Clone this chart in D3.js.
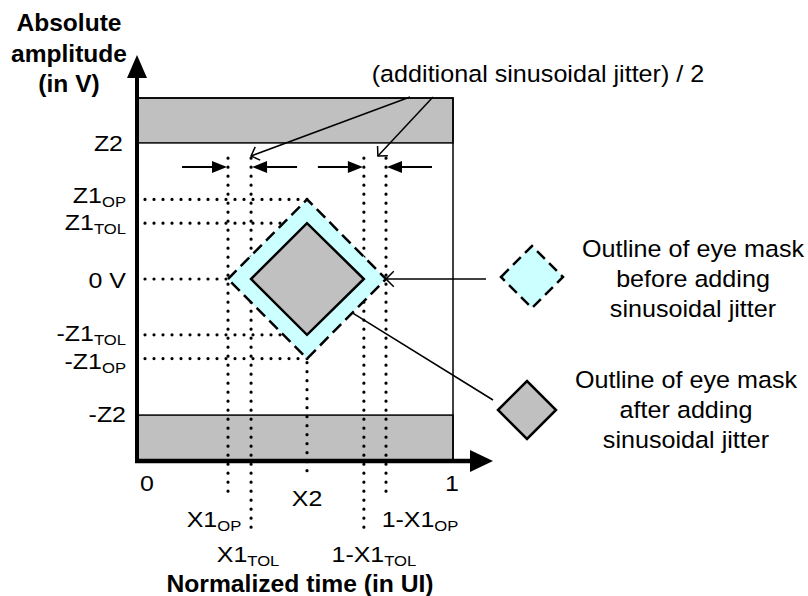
<!DOCTYPE html>
<html><head><meta charset="utf-8">
<script src="https://cdn.jsdelivr.net/npm/d3@7"></script>
<style>
body{margin:0;background:#fff}
svg{display:block}
text{font-family:"Liberation Sans",Arial,Helvetica,sans-serif;fill:#000}
</style>
</head><body>
<svg id="chart" width="808" height="596"></svg>
<script>
// ---------- data ----------
const xLabels = [["X1","OP"],["X1","TOL"],["X2",""],["1-X1","TOL"],["1-X1","OP"]];
const xValues = [0.288, 0.361, 0.538, 0.718, 0.788];
const zLabels = [["Z2",""],["Z1","OP"],["Z1","TOL"],["0 V",""],["-Z1","TOL"],["-Z1","OP"],["-Z2",""]];
const zValues = [1.0, 0.585, 0.41, 0, -0.41, -0.585, -1.0];
const xTickLabels = ["0","1"];
const xTickValues = [0, 1];
const zLimit = 1.33;          // extent of the drawn amplitude range
const jitterArrowZ = 0.823;   // amplitude where the jitter arrows sit
const calloutText = "(additional sinusoidal jitter) / 2";
const yTitle = ["Absolute","amplitude","(in V)"];
const xTitle = "Normalized time (in UI)";
const legendLabels = [
  ["Outline of eye mask","before adding","sinusoidal jitter"],
  ["Outline of eye mask","after adding","sinusoidal jitter"]
];

// ---------- layout ----------
const svg = d3.select("#chart");
const x = d3.scaleLinear().domain([0,1]).range([137,453]);
const y = d3.scaleLinear().domain([-zLimit,zLimit]).range([460,98]);
const CYAN = "#ccffff", GRAY = "#c0c0c0";
const X1OP=xValues[0], X1TOL=xValues[1], X2=xValues[2], NX1TOL=xValues[3], NX1OP=xValues[4];
const Z2=zValues[0], Z1OP=zValues[1], Z1TOL=zValues[2];

// text helper: horizontally widened text like the reference
function txt(px, py, size, anchor, sx, bold){
  const t = svg.append("text").attr("transform",`translate(${px},${py}) scale(${sx},1)`)
    .attr("font-size",size).attr("text-anchor",anchor);
  if(bold) t.attr("font-weight","bold");
  return t;
}

// bands
svg.append("rect").attr("x",x(0)).attr("y",y(zLimit)).attr("width",x(1)-x(0)).attr("height",y(Z2)-y(zLimit))
  .attr("fill",GRAY).attr("stroke","#000").attr("stroke-width",1.5);
svg.append("rect").attr("x",x(0)).attr("y",y(-Z2)).attr("width",x(1)-x(0)).attr("height",y(-zLimit)-y(-Z2))
  .attr("fill",GRAY).attr("stroke","#000").attr("stroke-width",1.5);
svg.append("rect").attr("x",x(0)).attr("y",y(zLimit)).attr("width",x(1)-x(0)).attr("height",y(-zLimit)-y(zLimit))
  .attr("fill","none").attr("stroke","#000").attr("stroke-width",1.5);

const dotted = sel => sel.attr("stroke","#000").attr("stroke-width",3.2)
  .attr("stroke-linecap","round").attr("stroke-dasharray","0,9").attr("fill","none");

// horizontal dotted guides
const hEnds = [null, X2, X2, X1OP, X2, X2, null];
zValues.forEach((v,i)=>{
  if(hEnds[i]===null) return;
  svg.append("line").attr("x1",x(0)+8).attr("x2",x(hEnds[i])).attr("y1",y(v)).attr("y2",y(v)).call(dotted);
});
// vertical dotted guides
const vTop = [jitterArrowZ+0.065, jitterArrowZ+0.065, -Z1OP-0.03, jitterArrowZ+0.065, jitterArrowZ+0.065];
const vBottom = [497, 533, 478, 533, 497];
xValues.forEach((v,i)=>{
  svg.append("line").attr("x1",x(v)).attr("x2",x(v)).attr("y1",y(vTop[i])).attr("y2",vBottom[i]).call(dotted);
});

// connector to "after" legend (starts under the cyan ring)
const t = 0.45;
const cx0 = x(NX1TOL)+(x(X2)-x(NX1TOL))*t, cy0 = y(0)+(y(-Z1TOL)-y(0))*t;
svg.append("line").attr("x1",cx0).attr("y1",cy0).attr("x2",493).attr("y2",400).attr("stroke","#000").attr("stroke-width",1.5);

// diamonds
const diamond = (l,r,top,bot,mid,cxv) => [[l,mid],[cxv,top],[r,mid],[cxv,bot]];
const line = d3.line();
svg.append("path")
  .attr("d", line(diamond(x(X1OP),x(NX1OP),y(Z1OP),y(-Z1OP),y(0),x(X2)))+"Z")
  .attr("fill",CYAN).attr("stroke","#000").attr("stroke-width",2.5).attr("stroke-dasharray","12,6");
svg.append("path")
  .attr("d", line(diamond(x(X1TOL),x(NX1TOL),y(Z1TOL),y(-Z1TOL),y(0),x(X2)))+"Z")
  .attr("fill",GRAY).attr("stroke","#000").attr("stroke-width",2.5).attr("stroke-linejoin","miter");

// arrow helpers
function filledArrow(x1,y1,x2,y2,len,hw,sw){
  const a = Math.atan2(y2-y1,x2-x1);
  const bx = x2-len*Math.cos(a), by = y2-len*Math.sin(a);
  svg.append("line").attr("x1",x1).attr("y1",y1).attr("x2",bx).attr("y2",by).attr("stroke","#000").attr("stroke-width",sw);
  svg.append("path").attr("d",line([[x2,y2],[bx+hw*Math.sin(a),by-hw*Math.cos(a)],[bx-hw*Math.sin(a),by+hw*Math.cos(a)]])+"Z").attr("fill","#000");
}
function openArrow(x1,y1,x2,y2,len,ang){
  const a = Math.atan2(y1-y2,x1-x2);
  const g = svg.append("g").attr("stroke","#000").attr("stroke-width",1.5).attr("fill","none");
  g.append("line").attr("x1",x1).attr("y1",y1).attr("x2",x2).attr("y2",y2);
  g.append("path").attr("d",line([[x2+len*Math.cos(a-ang),y2+len*Math.sin(a-ang)],[x2,y2],[x2+len*Math.cos(a+ang),y2+len*Math.sin(a+ang)]]));
}

// jitter arrows
const ja = y(jitterArrowZ);
filledArrow(x(X1OP)-46, ja, x(X1OP)-1, ja, 15, 6, 2);
filledArrow(x(X1TOL)+46, ja, x(X1TOL)+1, ja, 15, 6, 2);
filledArrow(x(NX1TOL)-46, ja, x(NX1TOL)-1, ja, 15, 6, 2);
filledArrow(x(NX1OP)+46, ja, x(NX1OP)+1, ja, 15, 6, 2);

// axes
svg.append("line").attr("x1",x(0)).attr("x2",x(0)).attr("y1",462).attr("y2",76).attr("stroke","#000").attr("stroke-width",4);
svg.append("path").attr("d",line([[x(0),55],[x(0)-10,78],[x(0)+10,78]])+"Z").attr("fill","#000");
svg.append("line").attr("x1",x(0)-2).attr("x2",472).attr("y1",461).attr("y2",461).attr("stroke","#000").attr("stroke-width",4.5);
svg.append("path").attr("d",line([[493,461],[470,450],[470,472]])+"Z").attr("fill","#000");

// labels with subscripts
const LSX = 1.11, LSIZE = 22.5, SUBSIZE = 15;
function subLabel(g, main, sub){
  g.append("tspan").text(main);
  if(sub) g.append("tspan").attr("font-size",SUBSIZE).attr("dy",4).text(sub);
}
const zShift = [0,-4,-1,1,-1.5,2,-1];
const zRight = [123,126,126,126,126,126,126];
zLabels.forEach((lab,i)=>{
  subLabel(txt(zRight[i], y(zValues[i])+zShift[i]+8, LSIZE, "end", LSX), lab[0], lab[1]);
});
const xLabelDx = [-14, -3, 0, 10, 34];
const xLabelY = [527, 562, 506, 562, 527];
xLabels.forEach((lab,i)=>{
  subLabel(txt(x(xValues[i])+xLabelDx[i], xLabelY[i], LSIZE, "middle", LSX), lab[0], lab[1]);
});
const tickDx = [10, -1];
xTickValues.forEach((v,i)=>{
  txt(x(v)+tickDx[i], 491, LSIZE, "middle", LSX).text(xTickLabels[i]);
});

// titles
yTitle.forEach((s,i)=>{
  txt(69, 31+i*30.5, 23.5, "middle", 1.045, true).text(s);
});
txt(300, 592, 23.5, "middle", 1.05, true).text(xTitle);

// callout
txt(538, 82, 23.5, "middle", 1.07).text(calloutText);
openArrow(410, 97, x(X1TOL), 156, 10, Math.PI/4);
openArrow(433, 97, x(NX1TOL)+14, 156, 10, Math.PI/4);

// legend connector 1
openArrow(486, y(0), x(NX1OP), y(0), 11, Math.PI/4);

// legend diamonds
const lg1 = {cx:532, cy:277, h:31}, lg2 = {cx:527, cy:410, h:29};
svg.append("path").attr("d",line(diamond(lg1.cx-lg1.h,lg1.cx+lg1.h,lg1.cy-lg1.h,lg1.cy+lg1.h,lg1.cy,lg1.cx))+"Z")
  .attr("fill",CYAN).attr("stroke","#000").attr("stroke-width",2.5).attr("stroke-dasharray","11,6");
svg.append("path").attr("d",line(diamond(lg2.cx-lg2.h,lg2.cx+lg2.h,lg2.cy-lg2.h,lg2.cy+lg2.h,lg2.cy,lg2.cx))+"Z")
  .attr("fill",GRAY).attr("stroke","#000").attr("stroke-width",2.5);

const legendX = [693, 686], legendY = [257, 388];
legendLabels.forEach((lines,k)=>{
  lines.forEach((s,i)=>{
    txt(legendX[k], legendY[k]+i*30, 23.5, "middle", 1.07).text(s);
  });
});
</script>
</body></html>
